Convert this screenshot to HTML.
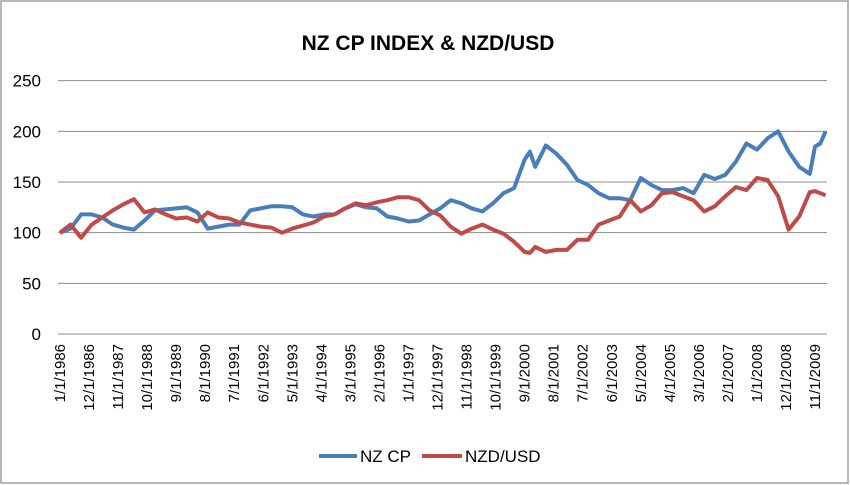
<!DOCTYPE html>
<html><head><meta charset="utf-8"><style>
body{margin:0;background:#fff}
svg{display:block;font-family:"Liberation Sans",Calibri,sans-serif}
</style></head><body>
<svg id="chart" width="850" height="485">
<rect x="1" y="1" width="847" height="482" fill="#fff" stroke="#a0a0a0" stroke-width="1.5"/>
<text x="428" y="50" text-anchor="middle" font-size="21" font-weight="bold" fill="#000">NZ CP INDEX &amp; NZD/USD</text>
<g id="grid"></g><g id="yticks"></g><g id="xticks"></g><g id="series"></g>
<g>
<line x1="319" y1="456" x2="357" y2="456" stroke="#4a7ebb" stroke-width="4"/>
<text x="360" y="462" font-size="17" fill="#000">NZ CP</text>
<line x1="422" y1="456" x2="462" y2="456" stroke="#be4b48" stroke-width="4"/>
<text x="465" y="462" font-size="17" fill="#000">NZD/USD</text>
</g>
</svg>
<script>
const months = [0,4,8,12,16,20,24,28,32,36,40,44,48,52,56,60,64,68,72,76,80,84,88,92,96,100,104,108,112,116,120,124,128,132,136,140,144,148,152,156,160,164,168,172,176,178,180,184,188,192,196,200,204,208,212,216,220,224,228,232,236,240,244,248,252,256,260,264,268,272,276,280,284,286,288,290];
const nzcp = [100,104,118,118,115,108,105,103,112,122,123,124,125,120,104,106,108,108,122,124,126,126,125,118,116,118,118,124,128,125,124,116,114,111,112,118,124,132,129,124,121,129,139,144,172,180,165,186,178,167,152,147,139,134,134,132,154,147,142,142,144,139,157,153,157,170,188,182,193,200,180,165,158,185,188,200];
const nzdusd = [100,108,95,108,115,122,128,133,120,123,118,114,115,111,120,115,114,110,108,106,105,100,104,107,110,116,118,124,129,127,130,132,135,135,132,122,117,106,99,104,108,103,99,91,81,80,86,81,83,83,93,93,108,112,116,132,121,127,139,140,136,132,121,126,136,145,142,154,152,136,103,116,140,141,139,137];
const yTicks = [0,50,100,150,200,250];
const xLabels = ["1/1/1986","12/1/1986","11/1/1987","10/1/1988","9/1/1989","8/1/1990","7/1/1991","6/1/1992","5/1/1993","4/1/1994","3/1/1995","2/1/1996","1/1/1997","12/1/1997","11/1/1998","10/1/1999","9/1/2000","8/1/2001","7/1/2002","6/1/2003","5/1/2004","4/1/2005","3/1/2006","2/1/2007","1/1/2008","12/1/2008","11/1/2009"];
const NS="http://www.w3.org/2000/svg";
const X = m => 60 + m*2.64;
const Y = v => 334 - v*1.0133;
const grid=document.getElementById('grid'), yt=document.getElementById('yticks'), xt=document.getElementById('xticks'), ser=document.getElementById('series');
yTicks.forEach(v=>{
  const l=document.createElementNS(NS,'line');
  l.setAttribute('x1',58);l.setAttribute('x2',827);l.setAttribute('y1',Y(v));l.setAttribute('y2',Y(v));
  l.setAttribute('stroke','#8c8c8c');l.setAttribute('stroke-width','1');
  
  
  grid.appendChild(l);
  const t=document.createElementNS(NS,'text');
  t.setAttribute('x',41);t.setAttribute('y',Y(v)+6);t.setAttribute('text-anchor','end');t.setAttribute('font-size','17');
  t.textContent=v;
  
  
  yt.appendChild(t);
});
xLabels.forEach((s,i)=>{
  const x=X(i*11)+5;
  const t=document.createElementNS(NS,'text');
  t.setAttribute('transform','translate('+x+',344) rotate(-90)');
  t.setAttribute('text-anchor','end');t.setAttribute('font-size','15');
  t.textContent=s;
  
  
  xt.appendChild(t);
});
function drawLine(vals,color,name){
  const p=document.createElementNS(NS,'polyline');
  p.setAttribute('points',vals.map((v,i)=>X(months[i]).toFixed(1)+','+Y(v).toFixed(1)).join(' '));
  p.setAttribute('fill','none');p.setAttribute('stroke',color);p.setAttribute('stroke-width','4');p.setAttribute('stroke-linejoin','round');
  
  
  ser.appendChild(p);
}
drawLine(nzcp,'#4a7ebb','series-nzcp');
drawLine(nzdusd,'#be4b48','series-nzdusd');
</script>
</body></html>
